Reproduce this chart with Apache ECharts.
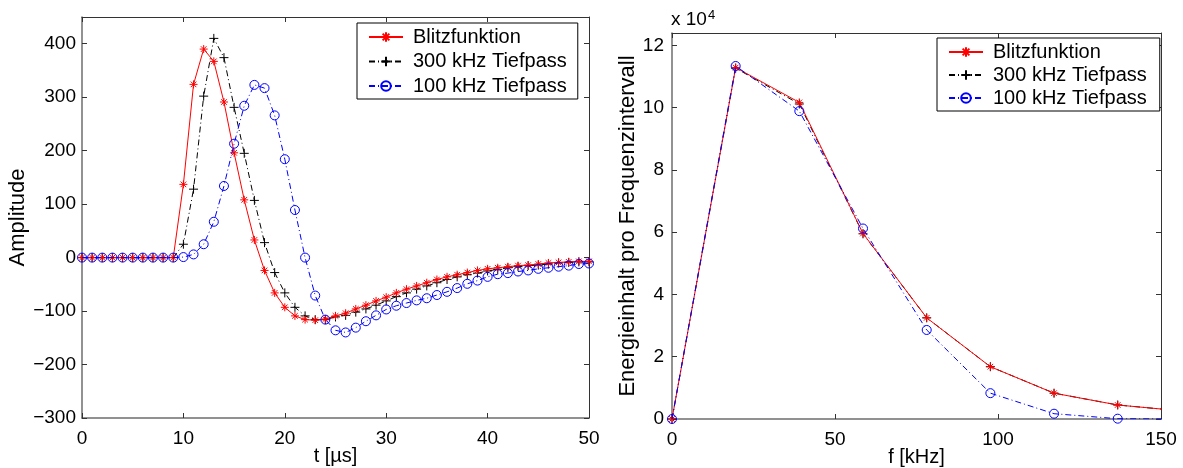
<!DOCTYPE html>
<html>
<head>
<meta charset="utf-8">
<script src="https://cdn.jsdelivr.net/npm/echarts@6/dist/echarts.min.js"></script>
<style>
html,body{margin:0;padding:0;background:#fff;}
#c{width:1183px;height:468px;}
</style>
</head>
<body>
<div id="c"></div>
<script>
// ---- Left plot: time signals ----
const tValues = [0,1,2,3,4,5,6,7,8,9,10,11,12,13,14,15,16,17,18,19,20,21,22,23,24,25,26,27,28,29,30,31,32,33,34,35,36,37,38,39,40,41,42,43,44,45,46,47,48,49,50];
const blitzAmp = [0,0,0,0,0,0,0,0,0,0, 137,324,390,367,291,196,108,33,-24,-66, -93,-109,-116,-117,-115,-109,-104,-96,-89,-81, -74,-66,-59,-53,-47,-41,-36,-32,-28,-24, -21,-19,-17,-15,-14,-12,-10,-9,-8,-7, -7];
const tp300Amp = [0,0,0,0,0,0,0,0,0,0, 25,128,302,410,374,281,195,107,28,-28, -66,-93,-109,-116,-116,-111,-108,-102,-96,-89, -81,-73,-66,-59,-53,-47,-41,-36,-32,-29, -25,-22,-19,-17,-15,-14,-12,-10,-9,-8, -8];
const tp100Amp = [0,0,0,0,0,0,0,0,0,0, 1,6,25,67,134,213,284,323,317,266, 184,89,0,-71,-116,-136,-140,-131,-119,-108, -97,-90,-85,-80,-76,-70,-64,-57,-49,-43, -36,-31,-29,-26,-24,-21,-19,-17,-15,-12, -11];

// ---- Right plot: energy spectrum ----
const fValues = [0, 19.53, 39.06, 58.59, 78.13, 97.66, 117.19, 136.72, 156.25];
const blitzEnergy = [0, 112900, 101700, 59600, 32500, 16800, 8300, 4500, 2600];
const tp300Energy = [0, 112700, 101200, 59500, 32500, 16800, 8300, 4500, 2600];
const tp100Energy = [0, 113400, 98900, 61200, 28600, 8300, 1700, 100, 0];

const seriesNames = ['Blitzfunktion', '300 kHz Tiefpass', '100 kHz Tiefpass'];

const FONT = '"Liberation Sans", Arial, sans-serif';
const AXD = '#333';
const AXL = '#6e6e6e';

const starPath = 'path://M0,-10L0,10M-10,0L10,0M-7,-7L7,7M-7,7L7,-7';
const plusPath = 'path://M0,-10L0,10M-10,0L10,0';

function pairs(xs, ys){ return xs.map((x,i)=>[x, ys[i]]); }

function mkSeries(xi, yi, xs, ys){
  return [
    {
      name: seriesNames[0], type:'line', xAxisIndex:xi, yAxisIndex:yi,
      data: pairs(xs, ys[0]), symbol: starPath, symbolSize: 8, symbolKeepAspect:true,
      itemStyle:{color:'#ff0000', borderColor:'#ff0000', borderWidth:1},
      lineStyle:{color:'#ff0000', width:1}, z:3, animation:false
    },
    {
      name: seriesNames[1], type:'line', xAxisIndex:xi, yAxisIndex:yi,
      data: pairs(xs, ys[1]), symbol: plusPath, symbolSize: 9, symbolKeepAspect:true,
      itemStyle:{color:'#000000', borderColor:'#000000', borderWidth:1},
      lineStyle:{color:'#000000', width:1, type:[6,3,1,3]}, z:2, animation:false
    },
    {
      name: seriesNames[2], type:'line', xAxisIndex:xi, yAxisIndex:yi,
      data: pairs(xs, ys[2]), symbol:'circle', symbolSize: 9,
      itemStyle:{color:'rgba(0,0,0,0)', borderColor:'#0000ff', borderWidth:1},
      lineStyle:{color:'#0000ff', width:1, type:[6,3,1,3]}, z:4, animation:false
    }
  ];
}

const tickStyle = {show:true, inside:true, length:5, lineStyle:{color:AXD, width:1}};
function axLine(c, w){ return {show:true, onZero:false, lineStyle:{color:c, width:w}}; }
const lbl = {fontFamily:FONT, fontSize:19, color:'#000'};
const xName = {fontFamily:FONT, fontSize:20, color:'#000'};
const yName = {fontFamily:FONT, fontSize:22, color:'#000'};

function minusFmt(v){ return v < 0 ? '\u2212' + Math.abs(v) : String(v); }

const legendBase = {
  data:seriesNames, orient:'vertical', itemWidth:34, itemHeight:12,
  borderColor:'#000', borderWidth:1, backgroundColor:'#fff', selectedMode:false,
  textStyle:{fontFamily:FONT, fontSize:20, color:'#000', lineHeight:22, padding:[0,0,0,5]}
};

const chart = echarts.init(document.getElementById('c'), null, {renderer:'canvas'});
chart.setOption({
  animation:false,
  backgroundColor:'#fff',
  grid:[
    {left:82, top:17, width:507, height:401, show:false, containLabel:false, outerBoundsMode:'none'},
    {left:672, top:33, width:489, height:386, show:false, containLabel:false, outerBoundsMode:'none'}
  ],
  xAxis:[
    {gridIndex:0, type:'value', min:0, max:50, interval:10, position:'bottom',
     axisLine:axLine(AXL,1.5), axisTick:tickStyle, splitLine:{show:false},
     axisLabel:Object.assign({margin:11}, lbl),
     name:'t [\u00b5s]', nameLocation:'middle', nameGap:28, nameMoveOverlap:false, nameTextStyle:xName},
    {gridIndex:0, type:'value', min:0, max:50, interval:10, position:'top',
     axisLine:axLine(AXD,1), axisTick:tickStyle, splitLine:{show:false}, axisLabel:{show:false}},
    {gridIndex:1, type:'value', min:0, max:150, interval:50, position:'bottom',
     axisLine:axLine(AXL,1.5), axisTick:tickStyle, splitLine:{show:false},
     axisLabel:Object.assign({margin:11}, lbl),
     name:'f [kHz]', nameLocation:'middle', nameGap:28, nameMoveOverlap:false, nameTextStyle:xName},
    {gridIndex:1, type:'value', min:0, max:150, interval:50, position:'top',
     axisLine:axLine(AXD,1), axisTick:tickStyle, splitLine:{show:false}, axisLabel:{show:false}}
  ],
  yAxis:[
    {gridIndex:0, type:'value', min:-300, max:450, interval:100, position:'left',
     axisLine:axLine(AXL,1.5), axisTick:tickStyle, splitLine:{show:false},
     axisLabel:Object.assign({margin:6, formatter:v => (v % 100 === 0 ? minusFmt(v) : '')}, lbl),
     name:'Amplitude', nameLocation:'middle', nameGap:48, nameRotate:90, nameTextStyle:yName},
    {gridIndex:0, type:'value', min:-300, max:450, interval:100, position:'right',
     axisLine:axLine(AXD,1), axisTick:tickStyle, splitLine:{show:false}, axisLabel:{show:false}},
    {gridIndex:1, type:'value', min:0, max:124000, interval:20000, position:'left',
     axisLine:axLine(AXL,1.5), axisTick:tickStyle, splitLine:{show:false},
     axisLabel:Object.assign({margin:8, formatter:v => (v % 20000 === 0 ? String(v/10000) : '')}, lbl),
     name:'Energieinhalt pro Frequenzintervall', nameLocation:'middle', nameGap:30, nameRotate:90, nameTextStyle:yName},
    {gridIndex:1, type:'value', min:0, max:124000, interval:20000, position:'right',
     axisLine:axLine(AXD,1), axisTick:tickStyle, splitLine:{show:false}, axisLabel:{show:false}}
  ],
  legend:[
    Object.assign({left:357, top:23, itemGap:2.5, padding:[3,11,2,11]}, legendBase),
    Object.assign({left:937, top:38, itemGap:1, padding:[3,13,2,11]}, legendBase)
  ],
  graphic:[
    {type:'text', left:671, top:9, style:{text:'x 10{sup|4}', fontFamily:FONT, fontSize:19, fill:'#000',
      rich:{sup:{fontFamily:FONT, fontSize:13, verticalAlign:'top', padding:[0,0,9,1]}}}}
  ],
  series: [].concat(
    mkSeries(0, 0, tValues, [blitzAmp, tp300Amp, tp100Amp]),
    mkSeries(2, 2, fValues, [blitzEnergy, tp300Energy, tp100Energy])
  )
});
</script>
</body>
</html>
